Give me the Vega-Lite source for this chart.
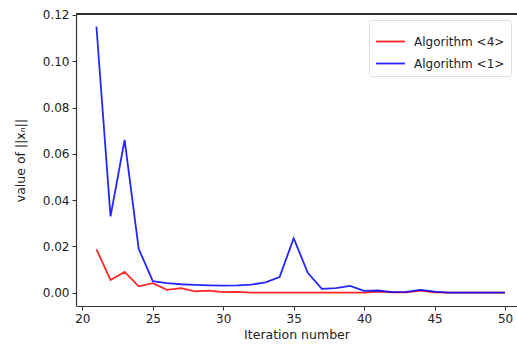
{
  "$schema": "https://vega.github.io/schema/vega-lite/v6.json",
  "autosize": {"type": "none"},
  "padding": {"left": 76, "top": 14, "right": 0, "bottom": 41},
  "width": 441,
  "height": 292,
  "background": "white",
  "config": {
    "view": {"stroke": null},
    "font": "DejaVu Sans",
    "axis": {
      "domainColor": "#333333",
      "domainWidth": 1.2,
      "tickColor": "#333333",
      "tickSize": 4,
      "tickWidth": 1,
      "labelFont": "DejaVu Sans",
      "labelFontSize": 12,
      "labelColor": "#222222",
      "titleFont": "DejaVu Sans",
      "titleFontSize": 12.5,
      "titleFontWeight": "normal",
      "titleColor": "#222222",
      "grid": false
    }
  },
  "data": {
    "values": [
      {"iter": 21, "value": 0.0188, "algo": "Algorithm <4>"},
      {"iter": 22, "value": 0.0055, "algo": "Algorithm <4>"},
      {"iter": 23, "value": 0.009, "algo": "Algorithm <4>"},
      {"iter": 24, "value": 0.0028, "algo": "Algorithm <4>"},
      {"iter": 25, "value": 0.0042, "algo": "Algorithm <4>"},
      {"iter": 26, "value": 0.0013, "algo": "Algorithm <4>"},
      {"iter": 27, "value": 0.002, "algo": "Algorithm <4>"},
      {"iter": 28, "value": 0.0006, "algo": "Algorithm <4>"},
      {"iter": 29, "value": 0.0009, "algo": "Algorithm <4>"},
      {"iter": 30, "value": 0.0003, "algo": "Algorithm <4>"},
      {"iter": 31, "value": 0.0004, "algo": "Algorithm <4>"},
      {"iter": 32, "value": 0.0001, "algo": "Algorithm <4>"},
      {"iter": 33, "value": 0.0001, "algo": "Algorithm <4>"},
      {"iter": 34, "value": 0.0001, "algo": "Algorithm <4>"},
      {"iter": 35, "value": 0.0001, "algo": "Algorithm <4>"},
      {"iter": 36, "value": 0.0001, "algo": "Algorithm <4>"},
      {"iter": 37, "value": 0.0001, "algo": "Algorithm <4>"},
      {"iter": 38, "value": 0.0001, "algo": "Algorithm <4>"},
      {"iter": 39, "value": 0.0001, "algo": "Algorithm <4>"},
      {"iter": 40, "value": 0.0001, "algo": "Algorithm <4>"},
      {"iter": 41, "value": 0.0005, "algo": "Algorithm <4>"},
      {"iter": 42, "value": 0.0002, "algo": "Algorithm <4>"},
      {"iter": 43, "value": 0.0002, "algo": "Algorithm <4>"},
      {"iter": 44, "value": 0.0009, "algo": "Algorithm <4>"},
      {"iter": 45, "value": 0.0002, "algo": "Algorithm <4>"},
      {"iter": 46, "value": 0.0001, "algo": "Algorithm <4>"},
      {"iter": 47, "value": 0.0001, "algo": "Algorithm <4>"},
      {"iter": 48, "value": 0.0001, "algo": "Algorithm <4>"},
      {"iter": 49, "value": 0.0001, "algo": "Algorithm <4>"},
      {"iter": 50, "value": 0.0001, "algo": "Algorithm <4>"},
      {"iter": 21, "value": 0.115, "algo": "Algorithm <1>"},
      {"iter": 22, "value": 0.033, "algo": "Algorithm <1>"},
      {"iter": 23, "value": 0.066, "algo": "Algorithm <1>"},
      {"iter": 24, "value": 0.019, "algo": "Algorithm <1>"},
      {"iter": 25, "value": 0.005, "algo": "Algorithm <1>"},
      {"iter": 26, "value": 0.0042, "algo": "Algorithm <1>"},
      {"iter": 27, "value": 0.0037, "algo": "Algorithm <1>"},
      {"iter": 28, "value": 0.0034, "algo": "Algorithm <1>"},
      {"iter": 29, "value": 0.0032, "algo": "Algorithm <1>"},
      {"iter": 30, "value": 0.0031, "algo": "Algorithm <1>"},
      {"iter": 31, "value": 0.0032, "algo": "Algorithm <1>"},
      {"iter": 32, "value": 0.0035, "algo": "Algorithm <1>"},
      {"iter": 33, "value": 0.0045, "algo": "Algorithm <1>"},
      {"iter": 34, "value": 0.0068, "algo": "Algorithm <1>"},
      {"iter": 35, "value": 0.0236, "algo": "Algorithm <1>"},
      {"iter": 36, "value": 0.0086, "algo": "Algorithm <1>"},
      {"iter": 37, "value": 0.0017, "algo": "Algorithm <1>"},
      {"iter": 38, "value": 0.002, "algo": "Algorithm <1>"},
      {"iter": 39, "value": 0.003, "algo": "Algorithm <1>"},
      {"iter": 40, "value": 0.0008, "algo": "Algorithm <1>"},
      {"iter": 41, "value": 0.001, "algo": "Algorithm <1>"},
      {"iter": 42, "value": 0.0003, "algo": "Algorithm <1>"},
      {"iter": 43, "value": 0.0004, "algo": "Algorithm <1>"},
      {"iter": 44, "value": 0.0013, "algo": "Algorithm <1>"},
      {"iter": 45, "value": 0.0005, "algo": "Algorithm <1>"},
      {"iter": 46, "value": 0.0001, "algo": "Algorithm <1>"},
      {"iter": 47, "value": 0.0001, "algo": "Algorithm <1>"},
      {"iter": 48, "value": 0.0001, "algo": "Algorithm <1>"},
      {"iter": 49, "value": 0.0001, "algo": "Algorithm <1>"},
      {"iter": 50, "value": 0.0001, "algo": "Algorithm <1>"}
    ]
  },
  "encoding": {
    "y": {
      "field": "value", "type": "quantitative",
      "scale": {"domain": [-0.0057, 0.1204], "nice": false, "zero": false},
      "axis": {"values": [0, 0.02, 0.04, 0.06, 0.08, 0.1, 0.12], "format": ".2f", "title": "value of ||xₙ||", "titlePadding": 15, "labelPadding": 3}
    }
  },
  "layer": [
    {
      "mark": {"type": "rule", "color": "#333333", "strokeWidth": 1.2},
      "encoding": {
        "y": {"datum": 0.1204}
      }
    },
    {
      "mark": {"type": "line", "strokeWidth": 1.8, "opacity": 0.85, "clip": true},
      "encoding": {
        "x": {
          "field": "iter", "type": "quantitative",
          "scale": {"domain": [19.55, 50.85], "nice": false, "zero": false},
          "axis": {"orient": "bottom", "values": [20, 25, 30, 35, 40, 45, 50], "title": "Iteration number", "titlePadding": 4, "labelPadding": 3}
        },
        "color": {
          "field": "algo", "type": "nominal",
          "scale": {"domain": ["Algorithm <4>", "Algorithm <1>"], "range": ["#ff0000", "#0000ff"]},
          "legend": {
            "title": null,
            "orient": "top-right",
            "offset": 6,
            "symbolType": "stroke",
            "symbolSize": 841,
            "symbolStrokeWidth": 1.8,
            "labelFont": "DejaVu Sans",
            "labelFontSize": 12,
            "labelColor": "#222222",
            "labelOffset": 8,
            "rowPadding": -10,
            "padding": 6,
            "strokeColor": "#dddddd",
            "fillColor": "white",
            "cornerRadius": 3
          }
        }
      }
    }
  ]
}
